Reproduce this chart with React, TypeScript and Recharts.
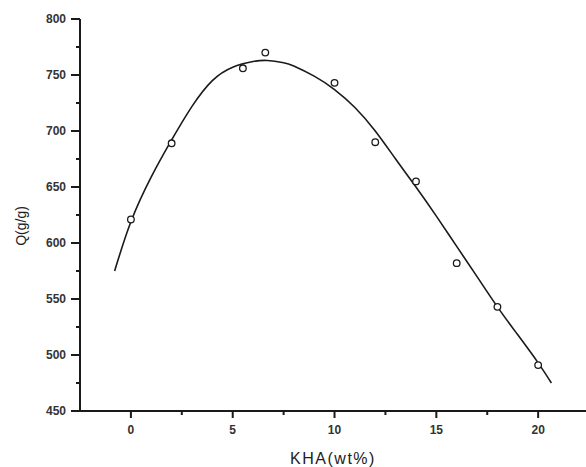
import React from "react";
import { ComposedChart, Line, Scatter, XAxis, YAxis, Label } from "recharts";

// measured points: KHA content (wt%) vs water absorbency Q (g/g)
const pointX = [0, 2, 5.5, 6.6, 10, 12, 14, 16, 18, 20];
const pointQ = [621, 689, 756, 770, 743, 690, 655, 582, 543, 491];

// fitted curve
const fitX = [-0.8, 0, 1, 2, 3, 4, 5, 6, 6.7, 7.5, 8, 9, 10, 11, 12, 13, 14, 15, 16, 17, 18, 19, 20, 20.65];
const fitQ = [575, 619, 659, 692, 722, 745, 757, 762, 763, 761, 758, 749, 737, 721, 700, 675, 650, 624, 597, 570, 543, 518, 493, 475];

const xTicks = [0, 2.5, 5, 7.5, 10, 12.5, 15, 17.5, 20];
const xMajor = [0, 5, 10, 15, 20];
const yTicks = [450, 475, 500, 525, 550, 575, 600, 625, 650, 675, 700, 725, 750, 775, 800];
const yMajor = [450, 500, 550, 600, 650, 700, 750, 800];

const points = pointX.map((x, i) => ({ x, q: pointQ[i] }));
const fit = fitX.map((x, i) => ({ x, q: fitQ[i] }));

const ink = "#1a1a1a";
const font = "'Liberation Sans', Arial, sans-serif";

const XTick = (props: any) => {
  const x = Number(props.x);
  const y = Number(props.y);
  const major = xMajor.includes(props.payload.value);
  return (
    <g>
      <path d={`M${x},${y}V${y + (major ? 7 : 4)}`} stroke={ink} strokeWidth={2} fill="none" />
      {major && (
        <text x={x} y={y + 23} textAnchor="middle" fontSize={12} fontWeight="bold" fill="#333" fontFamily={font}>
          {props.payload.value}
        </text>
      )}
    </g>
  );
};

const YTick = (props: any) => {
  const x = Number(props.x);
  const y = Number(props.y);
  const major = yMajor.includes(props.payload.value);
  return (
    <g>
      <path d={`M${x - (major ? 9 : 4)},${y}H${x}`} stroke={ink} strokeWidth={2} fill="none" />
      {major && (
        <text x={x - 14} y={y + 4} textAnchor="end" fontSize={12} fontWeight="bold" fill="#333" fontFamily={font}>
          {props.payload.value}
        </text>
      )}
    </g>
  );
};

const Dot = (props: any) => (
  <circle cx={props.cx} cy={props.cy} r={3.3} fill="#fff" stroke={ink} strokeWidth={1.3} />
);

export default function App() {
  return (
    <div style={{ position: "absolute", left: 0, top: 0, background: "#fff" }}>
      <ComposedChart width={586} height={467} margin={{ top: 19, right: 0, bottom: 0, left: 0 }}>
        <XAxis
          type="number"
          dataKey="x"
          domain={[-2.5, 22.35]}
          ticks={xTicks}
          tick={<XTick />}
          tickLine={false}
          tickSize={0}
          tickMargin={0}
          interval={0}
          height={56}
          axisLine={{ stroke: ink, strokeWidth: 2 }}
          allowDataOverflow
        >
          <Label
            value="KHA(wt%)"
            position="insideBottom"
            offset={3}
            style={{ fontSize: 16, fill: "#222", fontFamily: font, letterSpacing: 1.5 }}
          />
        </XAxis>
        <YAxis
          type="number"
          dataKey="q"
          domain={[450, 800]}
          ticks={yTicks}
          tick={<YTick />}
          tickLine={false}
          tickSize={0}
          tickMargin={0}
          interval={0}
          width={80}
          axisLine={{ stroke: ink, strokeWidth: 2 }}
          allowDataOverflow
        >
          <Label
            content={(p: any) => {
              const vb = p.viewBox || { x: 0, y: 19, width: 80, height: 392 };
              const cx = 21;
              const cy = vb.y + vb.height / 2 + 11;
              return (
                <text
                  x={cx}
                  y={cy}
                  transform={`rotate(-90 ${cx} ${cy})`}
                  textAnchor="middle"
                  dominantBaseline="central"
                  fontSize={14}
                  fill="#222"
                  fontFamily={font}
                >
                  Q(g/g)
                </text>
              );
            }}
          />
        </YAxis>
        <Line
          data={fit}
          dataKey="q"
          type="natural"
          stroke={ink}
          strokeWidth={1.6}
          dot={false}
          activeDot={false}
          isAnimationActive={false}
        />
        <Scatter data={points} dataKey="q" shape={<Dot />} isAnimationActive={false} />
      </ComposedChart>
    </div>
  );
}
